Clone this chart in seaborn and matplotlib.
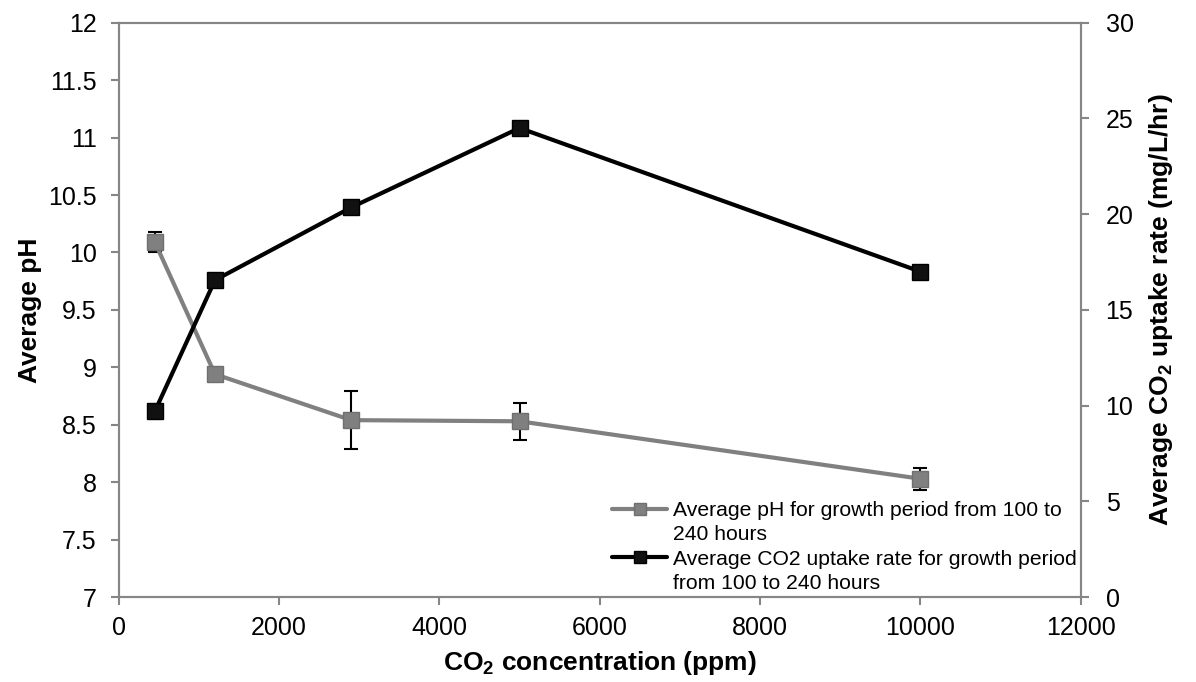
import matplotlib
matplotlib.use("Agg")
import matplotlib.pyplot as plt
from matplotlib.lines import Line2D
from matplotlib.ticker import FuncFormatter, MultipleLocator
import seaborn as sns
import pandas as pd

# CO2 concentration in the feed gas (ppm)
co2_ppm = [450, 1200, 2900, 5000, 10000]
# Average pH over the 100-240 h growth period, with error bars
avg_ph = [10.09, 8.94, 8.54, 8.53, 8.03]
ph_err = [0.085, 0.05, 0.25, 0.16, 0.095]
# Average CO2 uptake rate over the same period (mg/L/hr)
avg_uptake = [9.7, 16.55, 20.35, 24.5, 17.0]

df = pd.DataFrame({"co2": co2_ppm, "ph": avg_ph, "err": ph_err, "uptake": avg_uptake})

sns.set_style("white")
plt.rcParams["font.family"] = ["Liberation Sans", "DejaVu Sans"]
plt.rcParams["mathtext.fontset"] = "custom"
plt.rcParams["mathtext.rm"] = "Liberation Sans"
plt.rcParams["mathtext.bf"] = "Liberation Sans:bold"
plt.rcParams["text.color"] = "black"
plt.rcParams["axes.labelcolor"] = "black"
plt.rcParams["xtick.color"] = "black"
plt.rcParams["ytick.color"] = "black"

axis_grey = "#868686"
ph_grey = "#808080"

fig = plt.figure(figsize=(11.96, 6.82), dpi=100)
ax = fig.add_axes([0.0993, 0.1246, 0.9035 - 0.0993, 0.9667 - 0.1246])
ax2 = ax.twinx()

# pH series on the left axis
ax.errorbar(df["co2"], df["ph"], yerr=df["err"], fmt="none", ecolor="black",
            elinewidth=1.5, capsize=5, capthick=1.5, zorder=2)
sns.lineplot(data=df, x="co2", y="ph", ax=ax, color=ph_grey, linewidth=3,
             marker="s", markersize=11.5, markeredgecolor="#6f6f6f",
             markeredgewidth=1, markerfacecolor=ph_grey, zorder=3)

# CO2 uptake series on the right axis
sns.lineplot(data=df, x="co2", y="uptake", ax=ax2, color="black", linewidth=3,
             marker="s", markersize=11.5, markeredgecolor="black",
             markeredgewidth=1, markerfacecolor="#111111", zorder=3)

ax.set_xlim(0, 12000)
ax.set_ylim(7, 12)
ax2.set_ylim(0, 30)
ax.xaxis.set_major_locator(MultipleLocator(2000))
ax.yaxis.set_major_locator(MultipleLocator(0.5))
ax2.yaxis.set_major_locator(MultipleLocator(5))
ax.yaxis.set_major_formatter(FuncFormatter(lambda v, p: f"{v:g}"))
ax.xaxis.set_major_formatter(FuncFormatter(lambda v, p: f"{v:g}"))

for a in (ax, ax2):
    for s in a.spines.values():
        s.set_color(axis_grey)
        s.set_linewidth(1.5)
    a.grid(False)

ax.tick_params(axis="both", which="major", direction="out", length=6, width=1.5,
               color=axis_grey, labelsize=18, labelcolor="black")
ax.tick_params(axis="y", pad=10, left=True, right=False)
ax.tick_params(axis="x", pad=8, bottom=True)
ax2.tick_params(axis="y", direction="out", length=6, width=1.5, color=axis_grey,
                labelsize=18, labelcolor="black", pad=12, right=True, left=False)

ax.set_xlabel(r"CO$_\mathbf{2}$ concentration (ppm)", fontsize=19, fontweight="bold",
              labelpad=6, color="black")
ax.set_ylabel("Average pH", fontsize=19, fontweight="bold", labelpad=4, color="black")
ax2.set_ylabel(r"Average CO$_\mathbf{2}$ uptake rate (mg/L/hr)", fontsize=19,
               fontweight="bold", labelpad=10, color="black")

# Legend: wrapped labels with the marker aligned to the first line
blank = Line2D([], [], linestyle="none")
h_ph = Line2D([], [], color=ph_grey, linewidth=3, marker="s", markersize=9,
              markerfacecolor=ph_grey, markeredgecolor="#6f6f6f")
h_up = Line2D([], [], color="black", linewidth=3, marker="s", markersize=9,
              markerfacecolor="#111111", markeredgecolor="black")
ph_lines = ["Average pH for growth period from 100 to", "240 hours"]
up_lines = ["Average CO2 uptake rate for growth period", "from 100 to 240 hours"]
leg = ax2.legend([h_ph, blank, h_up, blank], ph_lines + up_lines,
                 loc="lower right", bbox_to_anchor=(1.0, 0.0), frameon=False,
                 fontsize=15.2, handlelength=2.6, handletextpad=0.25,
                 labelspacing=0.25, borderaxespad=0.1, borderpad=0.1)
for t in leg.get_texts():
    t.set_color("black")

fig.savefig("out.png", dpi=100)
